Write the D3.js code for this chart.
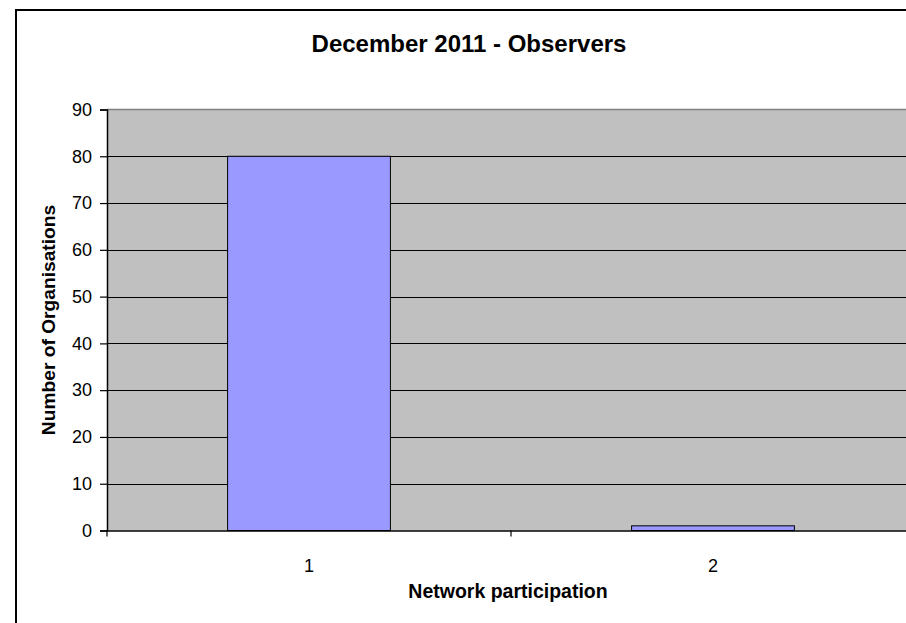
<!DOCTYPE html>
<html>
<head>
<meta charset="utf-8">
<script src="https://cdn.jsdelivr.net/npm/d3@7"></script>
<style>
  html, body { margin: 0; padding: 0; background: #fff; }
  svg { display: block; font-family: "Liberation Sans", Arial, sans-serif; }
</style>
</head>
<body>
<svg id="chart" width="906" height="623"></svg>
<script>
// Chart data
const categories = ["1", "2"];
const organisations = [80, 1];
const yTicks = [0, 10, 20, 30, 40, 50, 60, 70, 80, 90];
const chartTitle = "December 2011 - Observers";
const xTitle = "Network participation";
const yTitle = "Number of Organisations";

const svg = d3.select("#chart");

// Outer chart frame (extends past the right and bottom edges)
svg.append("rect")
  .attr("x", 16).attr("y", 10)
  .attr("width", 1000).attr("height", 700)
  .attr("fill", "#fff")
  .attr("stroke", "#000")
  .attr("stroke-width", 2);

const plot = { left: 107, right: 915, top: 109.5, bottom: 530.5 };

const x = d3.scaleBand()
  .domain(categories)
  .range([plot.left, plot.right])
  .padding(0);

const y = d3.scaleLinear()
  .domain([0, 90])
  .range([plot.bottom, plot.top]);

// Plot area background
svg.append("rect")
  .attr("x", plot.left).attr("y", plot.top)
  .attr("width", plot.right - plot.left)
  .attr("height", plot.bottom - plot.top)
  .attr("fill", "#c0c0c0");

// Horizontal gridlines
svg.append("g")
  .selectAll("line")
  .data(yTicks.filter(t => t > 0 && t < 90))
  .join("line")
  .attr("x1", plot.left).attr("x2", plot.right)
  .attr("y1", d => Math.round(y(d)) + 0.5)
  .attr("y2", d => Math.round(y(d)) + 0.5)
  .attr("stroke", "#000")
  .attr("stroke-width", 1);

// Plot area top border
svg.append("line")
  .attr("x1", plot.left).attr("x2", plot.right)
  .attr("y1", y(90)).attr("y2", y(90))
  .attr("stroke", "#808080")
  .attr("stroke-width", 1.5);

// Bars
const barFrac = 0.403;
svg.append("g")
  .selectAll("rect")
  .data(organisations)
  .join("rect")
  .attr("x", (d, i) => x(categories[i]) + x.bandwidth() * (1 - barFrac) / 2)
  .attr("width", x.bandwidth() * barFrac)
  .attr("y", d => y(d))
  .attr("height", d => y(0) - y(d))
  .attr("fill", "#9999ff")
  .attr("stroke", "#000")
  .attr("stroke-width", 1);

// Y axis
const yAxis = d3.axisLeft(y)
  .tickValues(yTicks)
  .tickSize(7)
  .tickPadding(8)
  .tickFormat(d3.format("d"));

const gy = svg.append("g")
  .attr("transform", `translate(${plot.left},0)`)
  .call(yAxis);
gy.select(".domain").attr("stroke", "#000").attr("stroke-width", 1.5);
gy.selectAll(".tick line").attr("stroke", "#000").attr("stroke-width", 1.2);
gy.selectAll(".tick text")
  .attr("font-size", 18)
  .attr("font-family", "Liberation Sans, Arial, sans-serif")
  .attr("fill", "#000");

// X axis
const xAxis = d3.axisBottom(x)
  .tickSize(0)
  .tickPadding(29);

const gx = svg.append("g")
  .attr("transform", `translate(0,${plot.bottom})`)
  .call(xAxis);
gx.select(".domain").attr("stroke", "#000").attr("stroke-width", 1.5);
gx.selectAll(".tick text")
  .attr("font-size", 18)
  .attr("font-family", "Liberation Sans, Arial, sans-serif")
  .attr("fill", "#000");

// Category separator ticks on the x axis
svg.append("g")
  .selectAll("line")
  .data(categories)
  .join("line")
  .attr("x1", d => x(d)).attr("x2", d => x(d))
  .attr("y1", plot.bottom).attr("y2", plot.bottom + 6)
  .attr("stroke", "#000")
  .attr("stroke-width", 1.2);

// Titles
svg.append("text")
  .attr("x", 469).attr("y", 52)
  .attr("text-anchor", "middle")
  .attr("font-size", 24)
  .attr("font-weight", "bold")
  .text(chartTitle);

svg.append("text")
  .attr("x", 508).attr("y", 598)
  .attr("text-anchor", "middle")
  .attr("font-size", 19.5)
  .attr("font-weight", "bold")
  .text(xTitle);

svg.append("text")
  .attr("transform", "translate(55,320) rotate(-90)")
  .attr("text-anchor", "middle")
  .attr("font-size", 19.2)
  .attr("font-weight", "bold")
  .text(yTitle);
</script>
</body>
</html>
